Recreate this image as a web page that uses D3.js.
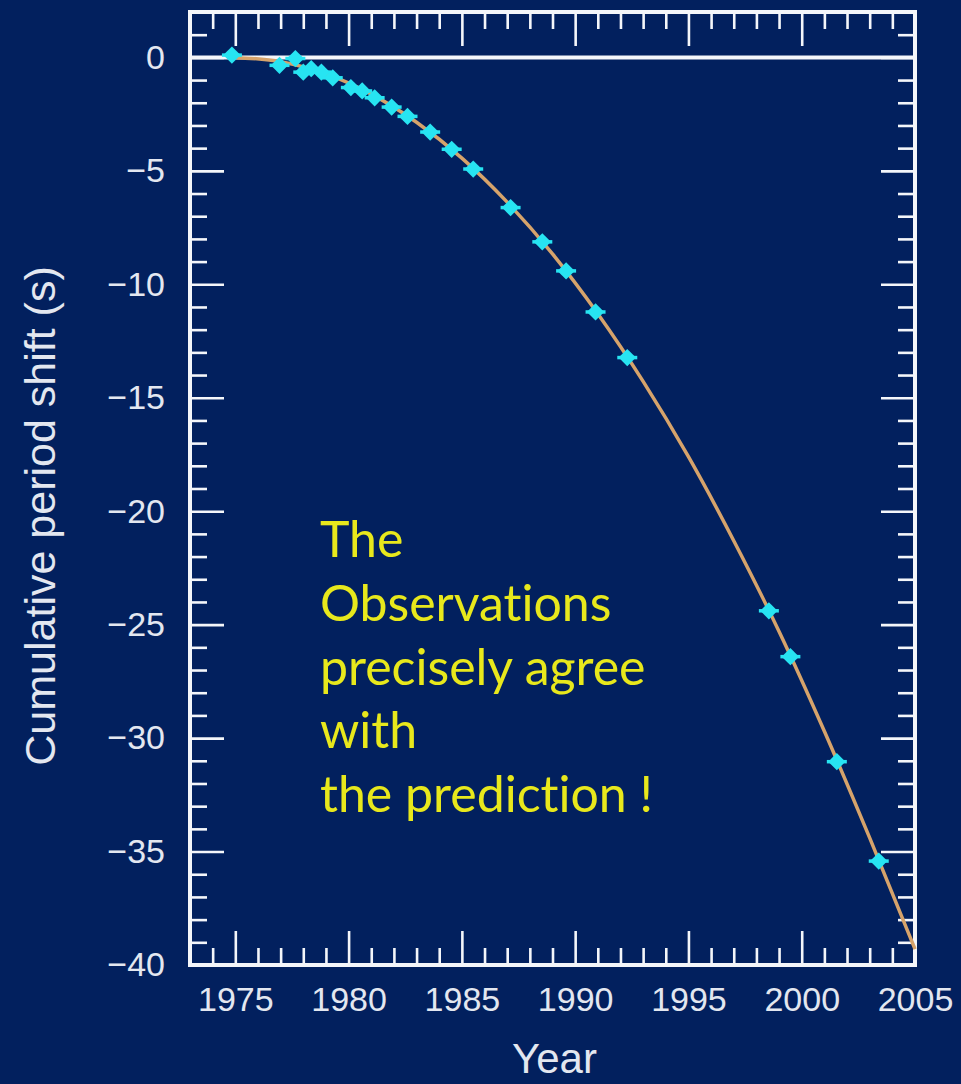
<!DOCTYPE html>
<html>
<head>
<meta charset="utf-8">
<script src="https://cdn.jsdelivr.net/npm/d3@7"></script>
<style>
  html, body { margin: 0; padding: 0; background: #02205e; }
  svg { display: block; }
  .tick text { font-family: "Liberation Sans", Arial, sans-serif; fill: #e3e7f0; }
  .tick line { stroke: #f4f6fa; stroke-width: 2.6; }
  .note { font-variant-ligatures: none; }
</style>
</head>
<body>
<svg id="chart" width="961" height="1084"></svg>
<script>
const obsYear = [1974.85, 1976.95, 1977.65, 1978.0, 1978.35, 1978.8, 1979.3, 1980.1, 1980.6,
    1981.15, 1981.9, 1982.6, 1983.6, 1984.55, 1985.5, 1987.15, 1988.55, 1989.6, 1990.9,
    1992.3, 1998.55, 1999.5, 2001.55, 2003.4];
const obsShift = [0.1, -0.35, -0.05, -0.65, -0.5, -0.65, -0.9, -1.33, -1.48,
    -1.78, -2.19, -2.6, -3.29, -4.05, -4.92, -6.62, -8.13, -9.41, -11.22,
    -13.23, -24.39, -26.41, -31.04, -35.42];

// predicted curve (general relativity)
const curveYear = [1974.9, 1977, 1979, 1981, 1983, 1985, 1987, 1989, 1991, 1993, 1995,
    1997, 1999, 2001, 2003, 2005];
const curveShift = [0, -0.19, -0.73, -1.62, -2.86, -4.44, -6.38, -8.66, -11.3, -14.28, -17.6,
    -21.3, -25.3, -29.7, -34.4, -39.3];

const xTickLabels = [1975, 1980, 1985, 1990, 1995, 2000, 2005];
const yTickLabels = [0, -5, -10, -15, -20, -25, -30, -35, -40];
const noteLines = ["The", "Observations", "precisely agree", "with", "the prediction !"];

const svg = d3.select("#chart"),
    margin = {top: 12, right: 46, bottom: 119, left: 190},
    width = +svg.attr("width"),
    height = +svg.attr("height");

const x = d3.scaleLinear()
    .domain([1973, 2005])
    .range([margin.left, width - margin.right]);

const y = d3.scaleLinear()
    .domain([-40, 2])
    .range([height - margin.bottom, margin.top]);

const minorX = d3.range(1974, 2005).filter(v => v % 5 !== 0);
const minorY = d3.range(-39, 2).filter(v => v % 5 !== 0);
const majorLen = 34, minorLen = 17;

// bottom axis (labels + inward ticks)
svg.append("g")
    .attr("transform", "translate(0," + y(-40) + ")")
    .call(d3.axisBottom(x).tickValues(xTickLabels).tickSize(-majorLen).tickPadding(22).tickFormat(d3.format("d")))
    .call(g => g.selectAll("text").attr("font-size", 34));
svg.append("g")
    .attr("transform", "translate(0," + y(-40) + ")")
    .call(d3.axisBottom(x).tickValues(minorX).tickSize(-minorLen).tickFormat(""));

// top axis
svg.append("g")
    .attr("transform", "translate(0," + y(2) + ")")
    .call(d3.axisTop(x).tickValues(xTickLabels).tickSize(-majorLen).tickFormat(""));
svg.append("g")
    .attr("transform", "translate(0," + y(2) + ")")
    .call(d3.axisTop(x).tickValues(minorX).tickSize(-minorLen).tickFormat(""));

// left axis
svg.append("g")
    .attr("transform", "translate(" + x(1973) + ",0)")
    .call(d3.axisLeft(y).tickValues(yTickLabels).tickSize(-majorLen).tickPadding(25))
    .call(g => g.selectAll("text").attr("font-size", 34));
svg.append("g")
    .attr("transform", "translate(" + x(1973) + ",0)")
    .call(d3.axisLeft(y).tickValues(minorY).tickSize(-minorLen).tickFormat(""));

// right axis
svg.append("g")
    .attr("transform", "translate(" + x(2005) + ",0)")
    .call(d3.axisRight(y).tickValues(yTickLabels).tickSize(-majorLen).tickFormat(""));
svg.append("g")
    .attr("transform", "translate(" + x(2005) + ",0)")
    .call(d3.axisRight(y).tickValues(minorY).tickSize(-minorLen).tickFormat(""));

svg.selectAll(".domain").remove();

// zero line
svg.append("line")
    .attr("x1", x(1973)).attr("x2", x(2005))
    .attr("y1", y(0)).attr("y2", y(0))
    .attr("stroke", "#f4f6fa")
    .attr("stroke-width", 4);

// frame
svg.append("rect")
    .attr("x", x(1973)).attr("y", y(2))
    .attr("width", x(2005) - x(1973))
    .attr("height", y(-40) - y(2))
    .attr("fill", "none")
    .attr("stroke", "#f4f6fa")
    .attr("stroke-width", 4);

// prediction curve
const line = d3.line()
    .curve(d3.curveMonotoneX)
    .x((d, i) => x(curveYear[i]))
    .y(d => y(d));

svg.append("path")
    .datum(curveShift)
    .attr("fill", "none")
    .attr("stroke", "#d6a36b")
    .attr("stroke-width", 3.5)
    .attr("d", line);

// observations
const pts = svg.append("g").attr("class", "points")
    .selectAll("g")
    .data(obsShift)
    .join("g")
    .attr("transform", (d, i) => "translate(" + x(obsYear[i]) + "," + y(d) + ")");

pts.append("line")
    .attr("x1", -10).attr("x2", 10)
    .attr("stroke", "#27e4f2")
    .attr("stroke-width", 3.5);

pts.append("path")
    .attr("d", d3.symbol(d3.symbolDiamond2, 190))
    .attr("fill", "#27e4f2");

// axis titles
svg.append("text")
    .attr("x", (x(1973) + x(2005)) / 2 + 2)
    .attr("y", 1073)
    .attr("text-anchor", "middle")
    .attr("font-family", "Liberation Sans, Arial, sans-serif")
    .attr("font-size", 42)
    .attr("fill", "#e3e7f0")
    .text("Year");

svg.append("text")
    .attr("transform", "translate(55," + 516 + ") rotate(-90)")
    .attr("text-anchor", "middle")
    .attr("font-family", "Liberation Sans, Arial, sans-serif")
    .attr("font-size", 43)
    .attr("fill", "#e3e7f0")
    .text("Cumulative period shift (s)");

// annotation
svg.append("g")
    .selectAll("text")
    .data(noteLines)
    .join("text")
    .attr("class", "note")
    .attr("x", 320)
    .attr("y", (d, i) => 557 + i * 63.8)
    .attr("font-family", "Lato, sans-serif")
    .attr("font-size", 50)
    .attr("fill", "#e8e81c")
    .text(d => d);
</script>
</body>
</html>
